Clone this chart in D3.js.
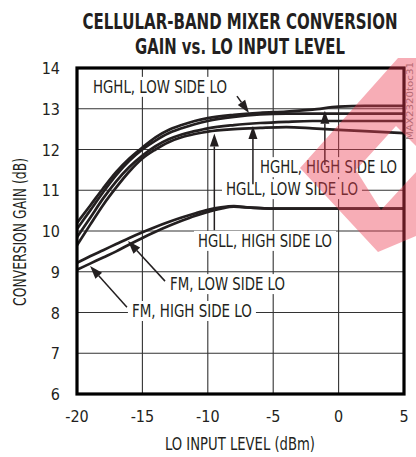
<!DOCTYPE html>
<html>
<head>
<meta charset="utf-8">
<script src="https://cdn.jsdelivr.net/npm/d3@7/dist/d3.min.js"></script>
<style>
  html, body { margin: 0; padding: 0; background: #fff; }
  svg { display: block; }
  text { font-family: "Liberation Sans Narrow", "DejaVu Sans Condensed", "Roboto", sans-serif; fill: #231f20; }
</style>
</head>
<body>
<svg id="chart" width="416" height="457"></svg>
<script>
// ---------- data ----------
const xTicks = [-20, -15, -10, -5, 0, 5];
const yTicks = [6, 7, 8, 9, 10, 11, 12, 13, 14];

const loLevel  = [-20, -19, -18, -17, -16, -15, -14, -13, -12, -11, -10, -8, -6, -4, -2, 0, 2, 5];
const hghlHigh = [10.2, 10.62, 11.05, 11.45, 11.78, 12.05, 12.3, 12.48, 12.6, 12.7, 12.77, 12.85, 12.9, 12.93, 12.98, 13.05, 13.07, 13.07];
const hghlLow  = [10.05, 10.5, 10.95, 11.37, 11.72, 12.0, 12.22, 12.4, 12.52, 12.62, 12.7, 12.8, 12.86, 12.88, 12.88, 12.88, 12.88, 12.88];
const hgllLow  = [9.85, 10.32, 10.8, 11.22, 11.57, 11.85, 12.08, 12.25, 12.37, 12.45, 12.52, 12.6, 12.65, 12.68, 12.7, 12.7, 12.7, 12.7];
const hgllHigh = [9.65, 10.15, 10.64, 11.07, 11.46, 11.78, 12.0, 12.18, 12.3, 12.38, 12.44, 12.5, 12.53, 12.55, 12.52, 12.48, 12.45, 12.4];

const fmLevel  = [-20, -19, -18, -17, -16, -15, -14, -13, -12, -11, -10, -9, -8, -7, -6, -5, 0, 5];
const fmLow    = [9.22, 9.38, 9.53, 9.68, 9.83, 9.97, 10.1, 10.22, 10.33, 10.43, 10.52, 10.58, 10.61, 10.58, 10.56, 10.55, 10.55, 10.55];
const fmHigh   = [9.05, 9.2, 9.35, 9.5, 9.67, 9.83, 9.98, 10.12, 10.25, 10.37, 10.47, 10.55, 10.6, 10.58, 10.56, 10.55, 10.55, 10.55];

const seriesNames = ["HGHL, HIGH SIDE LO", "HGHL, LOW SIDE LO", "HGLL, LOW SIDE LO", "HGLL, HIGH SIDE LO", "FM, LOW SIDE LO", "FM, HIGH SIDE LO"];

// label anchors (data units: left x, baseline y) and arrow definitions
const labelX      = [-6.01, -18.78, -8.61, -10.75, -12.89, -15.8];
const labelY      = [11.42, 13.39, 10.88, 9.61, 8.55, 7.89];
const labelWidth  = [137, 134, 132, 134, 115, 120];
const arrowFromX  = [-1.05, -7.77, -6.55, -9.5, -13.27, -16.18];
const arrowFromY  = [11.62, 13.31, 11.15, 10.02, 8.77, 8.13];
const arrowTipX   = [-1.05, -6.85, -6.55, -9.5, -16.1, -19.0];
const arrowSide   = [1, -1, 1, 1, 1, 1]; // tip below (+1) or above (-1) the curve

// ---------- layout ----------
const svg = d3.select("#chart");
const x = d3.scaleLinear().domain([-20, 5]).range([77, 404]);
const y = d3.scaleLinear().domain([6, 14]).range([394, 68]);

const seriesList = [
  { xs: loLevel, ys: hghlHigh },
  { xs: loLevel, ys: hghlLow },
  { xs: loLevel, ys: hgllLow },
  { xs: loLevel, ys: hgllHigh },
  { xs: fmLevel, ys: fmLow },
  { xs: fmLevel, ys: fmHigh }
];

function interp(xs, ys, xv) {
  for (let i = 0; i < xs.length - 1; i++) {
    if (xv >= xs[i] && xv <= xs[i + 1]) {
      const t = (xv - xs[i]) / (xs[i + 1] - xs[i]);
      return ys[i] + t * (ys[i + 1] - ys[i]);
    }
  }
  return ys[ys.length - 1];
}

// title
const title = svg.append("g");
title.append("text").attr("x", 240).attr("y", 29).attr("text-anchor", "middle")
  .attr("font-size", 22).attr("textLength", 315).attr("lengthAdjust", "spacingAndGlyphs")
  .style("font-weight", "bold").text("CELLULAR-BAND MIXER CONVERSION");
title.append("text").attr("x", 240).attr("y", 54).attr("text-anchor", "middle")
  .attr("font-size", 22).attr("textLength", 210).attr("lengthAdjust", "spacingAndGlyphs")
  .style("font-weight", "bold").text("GAIN vs. LO INPUT LEVEL");

// grid
const grid = svg.append("g").attr("stroke", "#333").attr("stroke-width", 1.1);
grid.selectAll("line.v").data(xTicks.slice(1, -1)).join("line")
  .attr("x1", d => x(d)).attr("x2", d => x(d)).attr("y1", y(14)).attr("y2", y(6));
grid.selectAll("line.h").data(yTicks.slice(1, -1)).join("line")
  .attr("class", "h")
  .attr("x1", x(-20)).attr("x2", x(5)).attr("y1", d => y(d)).attr("y2", d => y(d));

// curves
const line = d3.line().curve(d3.curveMonotoneX);
svg.append("g").selectAll("path").data(seriesList).join("path")
  .attr("d", s => line(s.xs.map((v, i) => [x(v), y(s.ys[i])])))
  .attr("fill", "none").attr("stroke", "#231f20").attr("stroke-width", 2.7)
  .attr("stroke-linejoin", "round");

// label backgrounds + labels
const ann = svg.append("g");
seriesNames.forEach((name, i) => {
  const lx = x(labelX[i]), ly = y(labelY[i]);
  ann.append("rect").attr("x", lx - 4).attr("y", ly - 16).attr("width", labelWidth[i] + 8).attr("height", 20)
    .attr("fill", "#fff");
});
// arrows
seriesNames.forEach((name, i) => {
  const s = seriesList[i];
  const tx = x(arrowTipX[i]);
  const ty = y(interp(s.xs, s.ys, arrowTipX[i])) + arrowSide[i] * 2.5;
  const fx = x(arrowFromX[i]), fy = y(arrowFromY[i]);
  const ang = Math.atan2(ty - fy, tx - fx);
  const L = 13, W = 4.5;
  const bx = tx - L * Math.cos(ang), by = ty - L * Math.sin(ang);
  ann.append("line").attr("x1", fx).attr("y1", fy).attr("x2", bx).attr("y2", by)
    .attr("stroke", "#231f20").attr("stroke-width", 1.5);
  ann.append("path")
    .attr("d", `M${tx},${ty}L${bx + W * Math.sin(ang)},${by - W * Math.cos(ang)}L${bx - W * Math.sin(ang)},${by + W * Math.cos(ang)}Z`)
    .attr("fill", "#231f20");
});
seriesNames.forEach((name, i) => {
  ann.append("text").attr("x", x(labelX[i])).attr("y", y(labelY[i]))
    .attr("font-size", 17).attr("textLength", labelWidth[i]).attr("lengthAdjust", "spacingAndGlyphs")
    .text(name);
});

// frame
svg.append("rect").attr("x", x(-20)).attr("y", y(14)).attr("width", x(5) - x(-20)).attr("height", y(6) - y(14))
  .attr("fill", "none").attr("stroke", "#000").attr("stroke-width", 3.2);

// axes labels
svg.append("g").selectAll("text").data(yTicks).join("text")
  .attr("x", 60).attr("y", d => y(d) + 6).attr("text-anchor", "end").attr("font-size", 16)
  .text(d => d);
svg.append("g").selectAll("text").data(xTicks).join("text")
  .attr("x", d => x(d)).attr("y", 422).attr("text-anchor", "middle").attr("font-size", 16)
  .text(d => d);
svg.append("text").attr("x", 240).attr("y", 450).attr("text-anchor", "middle").attr("font-size", 17)
  .attr("textLength", 150).attr("lengthAdjust", "spacingAndGlyphs").text("LO INPUT LEVEL (dBm)");
svg.append("text").attr("transform", "translate(26,232) rotate(-90)").attr("text-anchor", "middle")
  .attr("font-size", 17).attr("textLength", 148).attr("lengthAdjust", "spacingAndGlyphs")
  .text("CONVERSION GAIN (dB)");

// figure code
svg.append("text").attr("transform", "translate(413,101) rotate(-90)").attr("text-anchor", "middle")
  .attr("font-size", 9).attr("textLength", 78).attr("lengthAdjust", "spacingAndGlyphs")
  .style("fill", "#8a8a8a").text("MAX2320toc31");

// watermark overlay (tilted "E" stamp)
const wm = svg.append("g");
wm.append("path")
  .attr("d", "M300,168L398,58L416,58L416,236L378,252Z M356,170L396,126L416,146L416,172L381,210Z")
  .attr("fill", "rgb(235,60,80)").attr("fill-opacity", 0.42).attr("fill-rule", "evenodd");
</script>
</body>
</html>
